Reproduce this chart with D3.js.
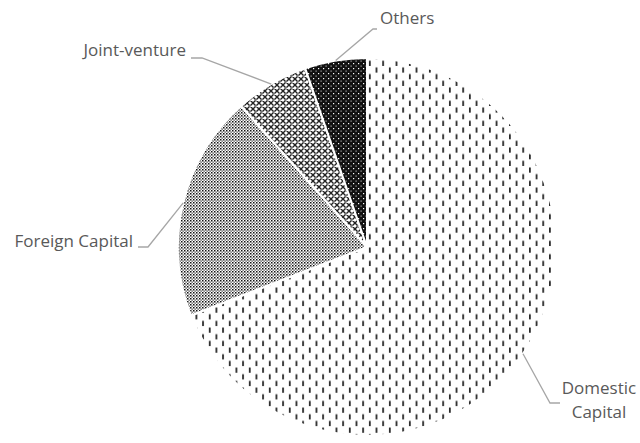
<!DOCTYPE html>
<html>
<head>
<meta charset="utf-8">
<script src="https://cdn.jsdelivr.net/npm/d3@7"></script>
<style>
  body { margin: 0; background: #fff; }
  svg { display: block; }
  .lbl { font-family: "Open Sans", sans-serif; font-size: 17px; fill: #595959; }
</style>
</head>
<body>
<div id="chart"></div>
<script>
// values (share of total, %)
const categories = ['Domestic Capital', 'Foreign Capital', 'Joint-venture', 'Others'];
const shares = [69.1, 19.3, 6.3, 5.3];
const patternIds = ['pDomestic', 'pForeign', 'pJoint', 'pOthers'];

// label text lines per slice
const labelLines = [['Domestic', 'Capital'], ['Foreign Capital'], ['Joint-venture'], ['Others']];

const width = 640, height = 443;
const cx = 367, cy = 247, radius = 189;

// where each leader line bends and where its label sits
const labelLayout = [
    {elbow: [550, 403], end: [560, 403], text: [599, 394], anchor: 'middle'},
    {elbow: [148, 247], end: [138, 247], text: [133, 247], anchor: 'end'},
    {elbow: [202, 58],  end: [191, 58],  text: [186, 56],  anchor: 'end'},
    {elbow: [373, 29],  end: [377, 29],  text: [380, 24],  anchor: 'start'}
];

const svg = d3.select("#chart")
    .append("svg")
    .attr("width", width)
    .attr("height", height);

const defs = svg.append("defs");

// dashed vertical lines
const pd = defs.append("pattern").attr("id", "pDomestic")
    .attr("patternUnits", "userSpaceOnUse").attr("width", 13.34).attr("height", 13.34);
pd.append("rect").attr("width", 13.34).attr("height", 13.34).attr("fill", "#fff");
pd.append("rect").attr("x", 2).attr("y", 0.5).attr("width", 1.6).attr("height", 5.2).attr("fill", "#111");
pd.append("rect").attr("x", 8.67).attr("y", 7.17).attr("width", 1.6).attr("height", 5.2).attr("fill", "#111");

// small dots
const pf = defs.append("pattern").attr("id", "pForeign")
    .attr("patternUnits", "userSpaceOnUse").attr("width", 3).attr("height", 3);
pf.append("rect").attr("width", 3).attr("height", 3).attr("fill", "#fff");
pf.append("rect").attr("x", 0).attr("y", 0).attr("width", 1.5).attr("height", 1.5).attr("fill", "#111");
pf.append("rect").attr("x", 1.5).attr("y", 1.5).attr("width", 1.3).attr("height", 1.3).attr("fill", "#444");

// diamond lattice
const pj = defs.append("pattern").attr("id", "pJoint")
    .attr("patternUnits", "userSpaceOnUse").attr("width", 6).attr("height", 6);
pj.append("rect").attr("width", 6).attr("height", 6).attr("fill", "#fff");
pj.append("path").attr("d", "M0,0L6,6M6,0L0,6M-1,5L1,7M5,-1L7,1M-1,1L1,-1M5,7L7,5")
    .attr("stroke", "#222").attr("stroke-width", 1.4);
pj.append("rect").attr("x", 2.4).attr("y", 2.4).attr("width", 1.2).attr("height", 1.2).attr("fill", "#fff");

// dark lattice
const po = defs.append("pattern").attr("id", "pOthers")
    .attr("patternUnits", "userSpaceOnUse").attr("width", 5).attr("height", 5);
po.append("rect").attr("width", 5).attr("height", 5).attr("fill", "#111");
po.append("rect").attr("x", 1).attr("y", 1).attr("width", 1.2).attr("height", 1.2).attr("fill", "#fff");
po.append("rect").attr("x", 3.5).attr("y", 3.5).attr("width", 1.2).attr("height", 1.2).attr("fill", "#aaa");

const pie = d3.pie().sort(null).value(d => d);
const arcs = pie(shares);
const arc = d3.arc().innerRadius(0).outerRadius(radius);
const edge = d3.arc().innerRadius(radius).outerRadius(radius);

const g = svg.append("g").attr("transform", `translate(${cx},${cy})`);

g.selectAll("path.slice")
    .data(arcs)
    .join("path")
    .attr("class", "slice")
    .attr("d", arc)
    .attr("fill", (d, i) => `url(#${patternIds[i]})`)
    .attr("stroke", "#fff")
    .attr("stroke-width", 2);

// leader lines and labels
arcs.forEach((d, i) => {
    const p = edge.centroid(d);
    const L = labelLayout[i];
    svg.append("polyline")
        .attr("points", [[p[0] + cx, p[1] + cy], L.elbow, L.end].map(q => q.join(",")).join(" "))
        .attr("fill", "none")
        .attr("stroke", "#a6a6a6")
        .attr("stroke-width", 1.3);

    const t = svg.append("text")
        .attr("class", "lbl")
        .attr("x", L.text[0])
        .attr("y", L.text[1])
        .attr("text-anchor", L.anchor);
    labelLines[i].forEach((line, k) => {
        t.append("tspan")
            .attr("x", L.text[0])
            .attr("dy", k === 0 ? 0 : 24)
            .text(line);
    });
});
</script>
</body>
</html>
